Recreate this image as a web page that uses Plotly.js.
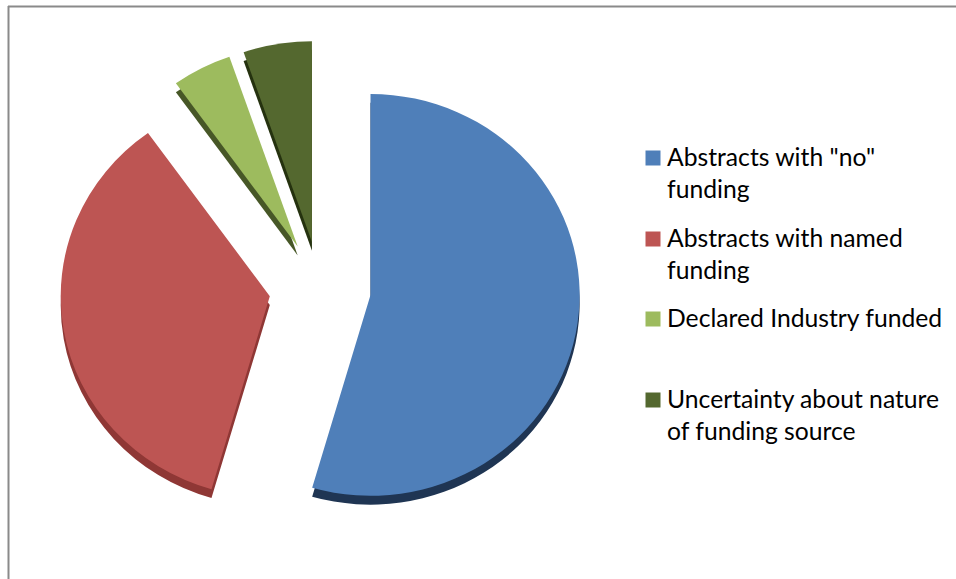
<!DOCTYPE html>
<html>
<head>
<meta charset="utf-8">
<script src="https://cdn.plot.ly/plotly-3.0.1.min.js"></script>
<style>html,body{margin:0;padding:0;background:#fff}#chart{width:956px;height:579px}</style>
</head>
<body>
<div id="chart"></div>
<script>
// Data
var categories = ['Abstracts with "no" funding', 'Abstracts with named funding', 'Declared Industry funded', 'Uncertainty about nature of funding source'];
var legendLines = [['Abstracts with "no"', 'funding'], ['Abstracts with named', 'funding'], ['Declared Industry funded'], ['Uncertainty about nature', 'of funding source']];
var shares = [54.5, 35.6, 4.6, 5.3];
var pulls = [0.244, 0.2435, 0.232, 0.232];
var faceColors = ['#4f7fb9', '#bd5553', '#9dbb5e', '#54682f'];
var sideColors = ['#1f3553', '#8f3735', '#475727', '#25320f'];
var legendTops = [158, 239, 319, 400];

var W = 956, H = 579;
var cx = 320, cy = 288, reach = 205 * (1 + Math.max.apply(null, pulls));
function pie(colors, dy) {
  return {
    type: 'pie', labels: categories, values: shares, pull: pulls, sort: false,
    direction: 'clockwise', rotation: 0, textinfo: 'none', hoverinfo: 'label+percent',
    showlegend: false,
    marker: {colors: colors, line: {width: 0}},
    domain: {x: [(cx - reach) / W, (cx + reach) / W],
             y: [1 - (cy + dy + reach) / H, 1 - (cy + dy - reach) / H]}
  };
}
var font = {family: 'Lato, Carlito, sans-serif', size: 24.7, color: '#000'};
var shapes = [
  {type: 'line', xref: 'paper', yref: 'paper', x0: 8.5 / W, x1: 8.5 / W, y0: 0, y1: 1 - 6 / H, line: {color: '#8a8a8a', width: 2}},
  {type: 'line', xref: 'paper', yref: 'paper', x0: 8 / W, x1: 1, y0: 1 - 6.5 / H, y1: 1 - 6.5 / H, line: {color: '#8a8a8a', width: 2}}
];
var annotations = [];
categories.forEach(function (c, i) {
  var yc = legendTops[i];
  shapes.push({type: 'rect', xref: 'paper', yref: 'paper', x0: 645.5 / W, x1: 660.5 / W,
    y0: 1 - (yc + 7.5) / H, y1: 1 - (yc - 7.5) / H, fillcolor: faceColors[i], line: {width: 0}});
  legendLines[i].forEach(function (t, j) {
    annotations.push({xref: 'paper', yref: 'paper', x: 666 / W, y: 1 - (yc - 1.5 + j * 31.7) / H,
      xanchor: 'left', yanchor: 'middle', showarrow: false, text: t, font: font, borderpad: 0});
  });
});
Plotly.newPlot('chart', [pie(sideColors, 9), pie(faceColors, 0)], {
  width: W, height: H, margin: {l: 0, r: 0, t: 0, b: 0},
  paper_bgcolor: '#fff', plot_bgcolor: '#fff', showlegend: false,
  shapes: shapes, annotations: annotations
}, {displayModeBar: false, staticPlot: true}).then(function (gd) {
  // The reference pie is seen in slight perspective: flatten the drawn pie into the same ellipse.
  var layer = gd.querySelector('.pielayer');
  if (layer) layer.setAttribute('transform', 'translate(' + cx + ',' + cy + ') scale(1.02,0.98) translate(' + (-cx) + ',' + (-cy) + ')');
});
</script>
</body>
</html>
